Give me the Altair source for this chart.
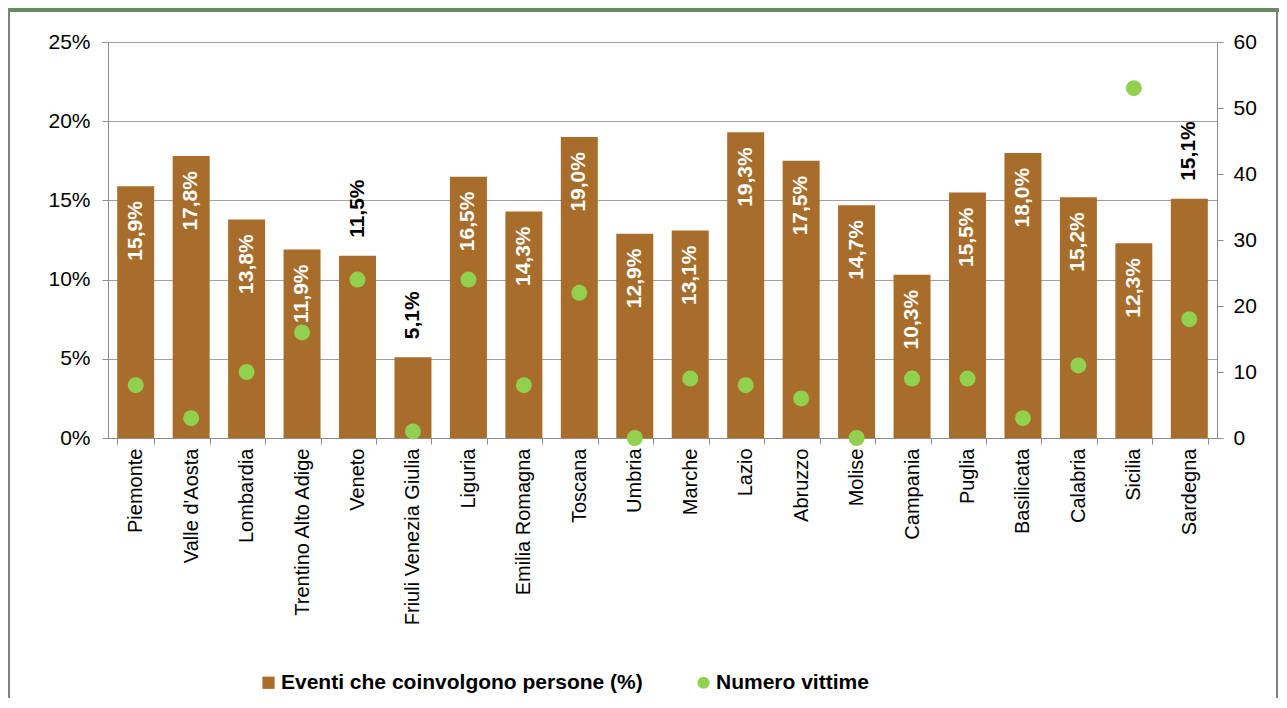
import altair as alt
import pandas as pd

regioni = ["Piemonte", "Valle d'Aosta", "Lombardia", "Trentino Alto Adige", "Veneto",
           "Friuli Venezia Giulia", "Liguria", "Emilia Romagna", "Toscana", "Umbria",
           "Marche", "Lazio", "Abruzzo", "Molise", "Campania", "Puglia", "Basilicata",
           "Calabria", "Sicilia", "Sardegna"]
eventi_pct = [15.9, 17.8, 13.8, 11.9, 11.5, 5.1, 16.5, 14.3, 19.0, 12.9,
              13.1, 19.3, 17.5, 14.7, 10.3, 15.5, 18.0, 15.2, 12.3, 15.1]
vittime = [8, 3, 10, 16, 24, 1, 24, 8, 22, 0, 9, 8, 6, 0, 9, 9, 3, 11, 53, 18]
etichette_esterne = ["Veneto", "Friuli Venezia Giulia", "Sardegna"]

S1 = "Eventi che coinvolgono persone (%)"
S2 = "Numero vittime"

df = pd.DataFrame({
    "regione": regioni,
    "quota": [v / 100 for v in eventi_pct],
    "etichetta": [f"{v:.1f}".replace(".", ",") + "%" for v in eventi_pct],
    "vittime": vittime,
    "s1": S1,
    "s2": S2,
})
df["esterna"] = df["regione"].isin(etichette_esterne)

FONT = "Liberation Sans"
BROWN = "#A86D2B"
GREEN = "#92D050"
GRAY = "#8C8C8C"

xenc = alt.X("regione:N", sort=regioni, title=None,
             scale=alt.Scale(paddingInner=0.333, paddingOuter=0.166),
             axis=alt.Axis(labelAngle=270, labelFontSize=20, labelFont=FONT,
                           labelColor="black", tickBand="extent", tickSize=6,
                           tickColor=GRAY, domainColor=GRAY, labelPadding=4,
                           labelAlign="right", labelBaseline="middle", labelLimit=400))

yscale = alt.Scale(domain=[0, 0.25], nice=False)
yaxis = alt.Axis(values=[0, 0.05, 0.10, 0.15, 0.20, 0.25], format=".0%",
                 labelFontSize=21, labelFont=FONT, labelColor="black",
                 tickSize=6, tickColor=GRAY, domainColor=GRAY,
                 gridColor="#A0A0A0", grid=True, labelPadding=12, title=None)

legend = alt.Legend(title=None, orient="none", legendX=150, legendY=630,
                    direction="horizontal", columns=2, labelFontSize=21,
                    labelFont=FONT, labelFontWeight="bold", labelColor="black",
                    labelLimit=600, symbolSize=150, columnPadding=50, padding=0,
                    labelOffset=2, symbolStrokeWidth=0)

cscale = alt.Scale(domain=[S1, S2], range=[BROWN, GREEN])

base = alt.Chart(df)

bars = base.mark_bar(color=BROWN).encode(
    x=xenc,
    y=alt.Y("quota:Q", scale=yscale, axis=yaxis),
    color=alt.Color("s1:N", scale=cscale, legend=legend),
)

txt_in = base.transform_filter("!datum.esterna").mark_text(
    angle=270, align="right", baseline="middle", dx=-15, font=FONT,
    fontSize=21, fontWeight="bold", color="white"
).encode(
    x=alt.X("regione:N", sort=regioni),
    y=alt.Y("quota:Q", scale=yscale, axis=yaxis),
    text="etichetta:N",
)

txt_out = base.transform_filter("datum.esterna").mark_text(
    angle=270, align="left", baseline="middle", dx=18, font=FONT,
    fontSize=21, fontWeight="bold", color="black"
).encode(
    x=alt.X("regione:N", sort=regioni),
    y=alt.Y("quota:Q", scale=yscale, axis=yaxis),
    text="etichetta:N",
)

left = alt.layer(bars, txt_in, txt_out)

points = base.mark_point(filled=True, size=255, opacity=1, strokeWidth=0).encode(
    x=alt.X("regione:N", sort=regioni),
    y=alt.Y("vittime:Q", scale=alt.Scale(domain=[0, 60], nice=False),
            axis=alt.Axis(orient="right", values=[0, 10, 20, 30, 40, 50, 60],
                          labelFontSize=21, labelFont=FONT, labelColor="black",
                          tickSize=6, tickColor=GRAY, domainColor=GRAY,
                          grid=False, labelPadding=10, title=None)),
    color=alt.Color("s2:N", scale=cscale, legend=legend),
    shape=alt.Shape("s2:N", scale=alt.Scale(domain=[S1, S2], range=["square", "circle"]),
                    legend=legend),
)

deco_df = pd.DataFrame({"k": [0]})
deco = alt.Chart(deco_df)
band = deco.mark_rect(color="#668B5E").encode(
    x=alt.value(-100), x2=alt.value(1171), y=alt.value(-34), y2=alt.value(-30))
lborder = deco.mark_rect(color="#808080").encode(
    x=alt.value(-100), x2=alt.value(-98), y=alt.value(-34), y2=alt.value(700))
rborder = deco.mark_rect(color="#808080").encode(
    x=alt.value(1168), x2=alt.value(1170), y=alt.value(-34), y2=alt.value(700))

chart = alt.layer(band, lborder, rborder, left, points).resolve_scale(
    y="independent"
).properties(
    width=1109, height=396,
    autosize=alt.AutoSizeParams(type="none"),
    padding={"left": 100, "top": 34, "right": 62, "bottom": 260},
).configure_view(stroke=None).configure(background="white")

chart.save("out.html", embed_options={"renderer": "svg", "actions": False})
